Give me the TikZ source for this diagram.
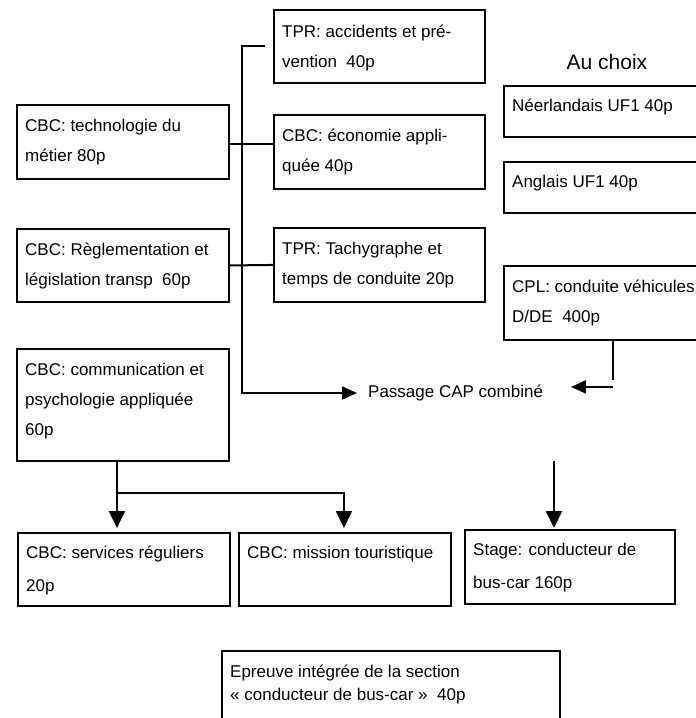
\documentclass[tikz,border=0pt]{standalone}
\usepackage{fontspec}
\setmainfont{Liberation Sans}
\usetikzlibrary{arrows.meta,calc}
\tikzset{
  box/.style={draw, line width=1.9pt, inner sep=0pt, anchor=north west},
  txt/.style={anchor=north west, inner sep=0pt, align=left, font=\fontsize{17}{30}\selectfont},
  txtb/.style={anchor=north west, inner sep=0pt, align=left, font=\fontsize{17}{33}\selectfont},
  txte/.style={anchor=north west, inner sep=0pt, align=left, font=\fontsize{17}{23}\selectfont},
  conn/.style={line width=2pt},
  harrow/.style={line width=2pt, -{Triangle[width=13pt,length=15pt]}},
  varrow/.style={line width=2pt, -{Triangle[width=16pt,length=17pt]}}
}
\begin{document}
\begin{tikzpicture}[x=1pt,y=-1pt]
\useasboundingbox (0,0) rectangle (696,718);
% boxes
\node[box, minimum width=211pt, minimum height=73pt] (tpr1) at (273,9) {};
\node[box, minimum width=211pt, minimum height=74pt] (eco) at (273,114) {};
\node[box, minimum width=211pt, minimum height=74pt] (tachy) at (273,227) {};
\node[box, minimum width=212pt, minimum height=74pt] (tech) at (16,104) {};
\node[box, minimum width=212pt, minimum height=73pt] (regle) at (16,228) {};
\node[box, minimum width=212pt, minimum height=112pt] (comm) at (16,348) {};
\node[box, minimum width=202pt, minimum height=51pt] (neer) at (503,85) {};
\node[box, minimum width=202pt, minimum height=51pt] (angl) at (503,161) {};
\node[box, minimum width=202pt, minimum height=74pt] (cpl) at (503,265) {};
\node[box, minimum width=212pt, minimum height=73pt] (serv) at (17,532) {};
\node[box, minimum width=212pt, minimum height=73pt] (miss) at (238,532) {};
\node[box, minimum width=210pt, minimum height=74pt] (stage) at (464,529) {};
\node[box, minimum width=338pt, minimum height=80pt] (epr) at (221,650) {};
% texts
\node[txt] (tpr1t) at ($(tpr1.north west)+(9,7)$) {\strut TPR: accidents et pré-\\vention\ \ 40p};
\node[txt] (ecot) at ($(eco.north west)+(9,6)$) {\strut CBC: économie appli-\\quée 40p};
\node[txt] (tachyt) at ($(tachy.north west)+(9,6)$) {\strut TPR: Tachygraphe et\\temps de conduite 20p};
\node[txt] (techt) at ($(tech.north west)+(9,6)$) {\strut CBC: technologie du\\métier 80p};
\node[txt] (reglet) at ($(regle.north west)+(9,6)$) {\strut CBC: Règlementation et\\législation transp\ \ 60p};
\node[txt] (commt) at ($(comm.north west)+(9,6)$) {\strut CBC: communication et\\psychologie appliquée\\60p};
\node[txt] (neert) at ($(neer.north west)+(9,5)$) {\strut Néerlandais UF1 40p};
\node[txt] (anglt) at ($(angl.north west)+(9,5)$) {\strut Anglais UF1 40p};
\node[txt] (cplt) at ($(cpl.north west)+(9,6)$) {\strut CPL: conduite véhicules\\D/DE\ \ 400p};
\node[txtb] (servt) at ($(serv.north west)+(9,3)$) {\strut CBC: services réguliers\\20p};
\node[txtb] (misst) at ($(miss.north west)+(9,3)$) {\strut CBC: mission touristique};
\node[txtb] (staget) at ($(stage.north west)+(9,3)$) {\strut Stage: conducteur de\\bus-car 160p};
\node[txte] (eprt) at ($(epr.north west)+(9,11)$) {\strut Epreuve intégrée de la section\\« conducteur de bus-car »\ \ 40p};
\node[font=\fontsize{21}{25}\selectfont, inner sep=0pt] (choix) at (607,62) {Au choix};
\node[font=\fontsize{17}{20}\selectfont, inner sep=0pt, anchor=west] (pass) at (368,393) {Passage CAP combiné};
% helper coordinates
\coordinate (h1) at (0,144);
\coordinate (s0) at (554,461);
% connectors
\draw[harrow] ($(tpr1.west)+(-8,-0.5)$) -- ++(-23,0) |- ($(pass.west)+(-11,0)$);
\draw[conn] (tech.east |- h1) -- (eco.west |- h1);
\draw[conn] (regle.east) -- (tachy.west);
\coordinate (cA) at ($(cpl.south)+(8,0)$);
\coordinate (cB) at ($(cpl.south)+(8,39)$);
\coordinate (cC) at ($(cpl.south)+(8,46)$);
\draw[conn] (cA) -- (cB);
\draw[harrow] (cC) -- ++(-42,0);
\draw[varrow] ($(comm.south)+(-6,0)$) -- ($(serv.north)+(-7,-4)$);
\draw[varrow] ($(comm.south)+(-6,31)$) -| ($(miss.north)+(-1,-4)$);
\draw[varrow] (s0) -- ($(stage.north -| s0)+(0,-1)$);
\end{tikzpicture}
\end{document}
